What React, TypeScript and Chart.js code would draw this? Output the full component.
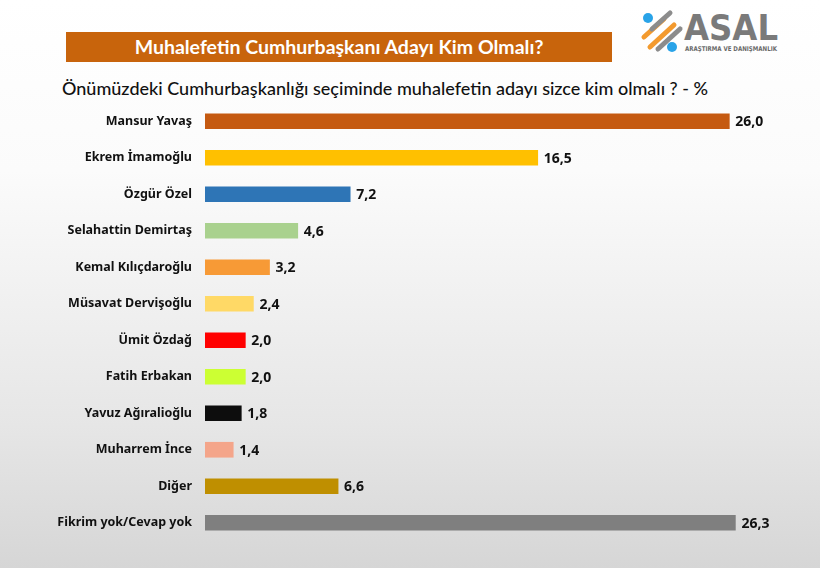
import React, { useEffect, useRef } from "react";
import { Chart, registerables } from "chart.js";

Chart.register(...registerables);

const categories = [
  "Mansur Yavaş",
  "Ekrem İmamoğlu",
  "Özgür Özel",
  "Selahattin Demirtaş",
  "Kemal Kılıçdaroğlu",
  "Müsavat Dervişoğlu",
  "Ümit Özdağ",
  "Fatih Erbakan",
  "Yavuz Ağıralioğlu",
  "Muharrem İnce",
  "Diğer",
  "Fikrim yok/Cevap yok",
];
const values = [26.0, 16.5, 7.2, 4.6, 3.2, 2.4, 2.0, 2.0, 1.8, 1.4, 6.6, 26.3];
const barColors = [
  "#c55a11",
  "#ffc000",
  "#2e75b6",
  "#a9d18e",
  "#f79a36",
  "#ffd966",
  "#ff0000",
  "#ccff33",
  "#0d0d0d",
  "#f4a58a",
  "#bf8f00",
  "#7f7f7f",
];
const title = "Muhalefetin Cumhurbaşkanı Adayı Kim Olmalı?";
const subtitle = "Önümüzdeki Cumhurbaşkanlığı seçiminde muhalefetin adayı sizce kim olmalı ? - %";

const FONT = "Lato, 'Open Sans', sans-serif";
const LABEL_FONT = "'Noto Sans', 'Open Sans', sans-serif";

const valueLabels = {
  id: "valueLabels",
  afterDatasetsDraw(chart: any) {
    const ctx = chart.ctx;
    const meta = chart.getDatasetMeta(0);
    ctx.save();
    ctx.font = `bold 14px ${LABEL_FONT}`;
    ctx.fillStyle = "#111111";
    ctx.textAlign = "left";
    ctx.textBaseline = "middle";
    meta.data.forEach((bar: any, i: number) => {
      const v = chart.data.datasets[0].data[i] as number;
      ctx.fillText(v.toFixed(1).replace(".", ","), bar.x + 6, bar.y + 1);
    });
    ctx.restore();
  },
};

function BarChart() {
  const ref = useRef<HTMLCanvasElement | null>(null);
  useEffect(() => {
    if (!ref.current) return;
    const chart = new Chart(ref.current, {
      type: "bar",
      data: {
        labels: categories,
        datasets: [
          {
            data: values,
            backgroundColor: barColors,
            borderWidth: 0,
            barThickness: 15,
          },
        ],
      },
      options: {
        indexAxis: "y",
        animation: false,
        responsive: false,
        maintainAspectRatio: false,
        layout: { padding: { top: 103, bottom: 27, left: 0, right: 10 } },
        plugins: {
          legend: { display: false },
          tooltip: { enabled: false },
          title: { display: false },
        },
        scales: {
          x: { display: false, min: 0, max: 30 },
          y: {
            grid: { display: false, drawTicks: false },
            border: { display: false },
            ticks: {
              color: "#111111",
              padding: 13,
              font: { family: LABEL_FONT, size: 12.5, weight: "bold" },
            },
            afterFit: (scale: any) => {
              scale.width = 205;
            },
          },
        },
      },
      plugins: [valueLabels],
    });
    return () => chart.destroy();
  }, []);
  return (
    <canvas
      ref={ref}
      width={820}
      height={568}
      style={{ position: "absolute", left: 0, top: 0, width: 820, height: 568 }}
    />
  );
}

function Logo() {
  return (
    <svg
      width={150}
      height={50}
      style={{ position: "absolute", left: 638, top: 7 }}
      viewBox="0 0 150 50"
    >
      <g strokeLinecap="round" fill="none">
        <line x1="6" y1="30" x2="26" y2="12" stroke="#f39a2e" strokeWidth="5" />
        <line x1="12" y1="40" x2="36" y2="18" stroke="#f39a2e" strokeWidth="5" />
        <line x1="14" y1="22" x2="32" y2="6" stroke="#8c8c8c" strokeWidth="5" />
        <line x1="20" y1="42" x2="42" y2="22" stroke="#8c8c8c" strokeWidth="5" />
      </g>
      <circle cx="10" cy="11" r="5" fill="#29a3e8" />
      <circle cx="34" cy="40" r="5" fill="#29a3e8" />
      <text
        x="46"
        y="33"
        fontFamily="'DejaVu Sans', sans-serif"
        fontWeight="bold"
        fontSize="35"
        fill="#7a7a7a"
        textLength="94"
        lengthAdjust="spacingAndGlyphs"
      >
        ASAL
      </text>
      <text
        x="47"
        y="44"
        fontFamily="'DejaVu Sans', sans-serif"
        fontWeight="bold"
        fontSize="6.5"
        fill="#6a6a6a"
        textLength="92"
        lengthAdjust="spacingAndGlyphs"
      >
        ARAŞTIRMA VE DANIŞMANLIK
      </text>
    </svg>
  );
}

export default function App() {
  return (
    <div
      style={{
        position: "absolute",
        left: 0,
        top: 0,
        width: 820,
        height: 568,
        overflow: "hidden",
        background: "linear-gradient(to bottom, #ffffff 0%, #fbfbfb 30%, #e6e6e6 75%, #d6d6d6 100%)",
        fontFamily: FONT,
      }}
    >
      <div
        style={{
          position: "absolute",
          left: 66,
          top: 32,
          width: 546,
          height: 30,
          background: "#c8640c",
          color: "#ffffff",
          fontWeight: "bold",
          fontSize: 19.5,
          lineHeight: "30px",
          textAlign: "center",
          whiteSpace: "nowrap",
        }}
      >
        {title}
      </div>
      <Logo />
      <div
        style={{
          position: "absolute",
          left: 62,
          top: 76,
          fontSize: 18,
          lineHeight: "24px",
          color: "#111111",
          whiteSpace: "nowrap",
          fontWeight: 500,
        }}
      >
        {subtitle}
      </div>
      <BarChart />
    </div>
  );
}
